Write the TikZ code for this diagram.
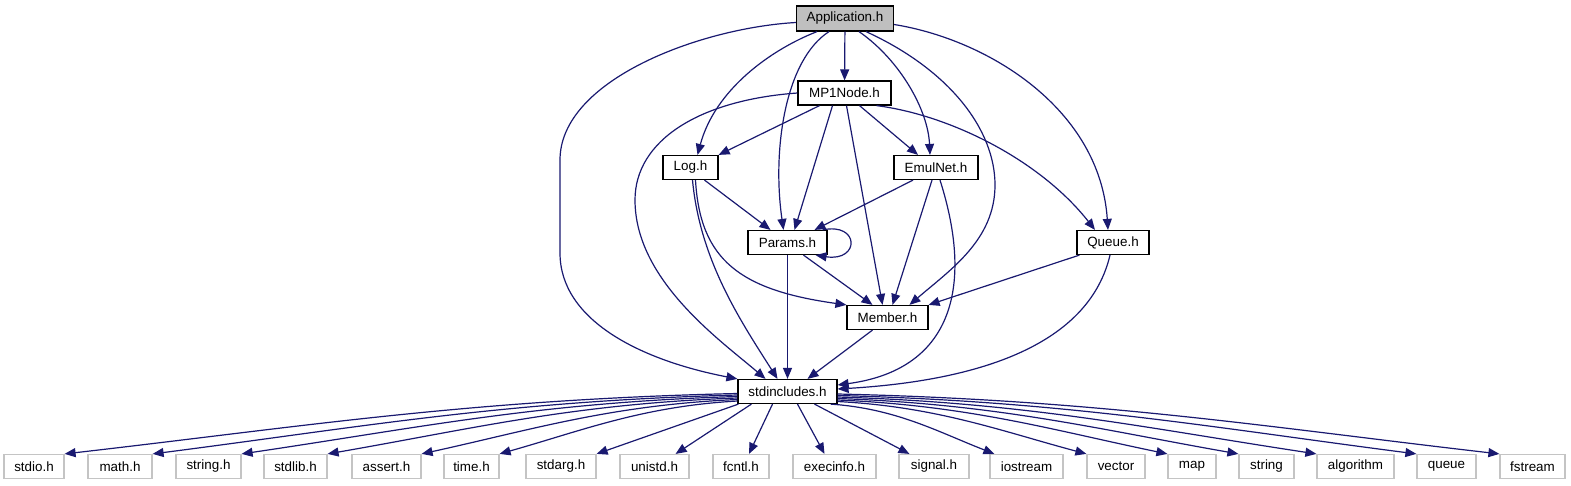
\documentclass[tikz,border=0pt]{standalone}
\usepackage{fontspec}
\setmainfont{Liberation Sans}
\usetikzlibrary{arrows.meta}
\definecolor{edgeblue}{RGB}{25,25,112}
\definecolor{appgray}{RGB}{191,191,191}
\definecolor{extgray}{RGB}{196,196,196}
\begin{document}
\begin{tikzpicture}[x=1pt,y=-1pt,
  hbox/.style={draw=black, line width=1.2pt, fill=white, inner sep=0pt, minimum height=24pt, font=\fontsize{13.4}{15}\selectfont},
  extbox/.style={draw=extgray, line width=1.2pt, fill=white, inner sep=0pt, minimum height=24pt, font=\fontsize{13.4}{15}\selectfont},
  edge/.style={draw=edgeblue, line width=1.2pt, -{Triangle[length=11pt,width=9pt]}}
]
\useasboundingbox (0,0) rectangle (1571,485);
% main headers
\node[hbox, fill=appgray, minimum width=97pt, minimum height=25pt] (app) at (845,18.5) {Application.h};
\node[hbox, minimum width=93pt] (mp1) at (844.5,93) {MP1Node.h};
\node[hbox, minimum width=55pt] (log) at (690.5,167.5) {Log.h};
\node[hbox, minimum width=84pt] (emul) at (936,167.5) {EmulNet.h};
\node[hbox, minimum width=79pt] (params) at (787.5,242.5) {Params.h};
\node[hbox, minimum width=72pt] (queue) at (1113,242.5) {Queue.h};
\node[hbox, minimum width=81pt] (member) at (887.5,317.5) {Member.h};
\node[hbox, minimum width=99pt] (stdinc) at (787.5,391.5) {stdincludes.h};
% system headers
\node[extbox, minimum width=60pt] (stdio) at (34,466.5) {stdio.h};
\node[extbox, minimum width=64pt] (math) at (120,466.5) {math.h};
\node[extbox, minimum width=65pt] (string) at (208.5,466.5) {string.h};
\node[extbox, minimum width=63pt] (stdlib) at (295.5,466.5) {stdlib.h};
\node[extbox, minimum width=69pt] (assert) at (386.5,466.5) {assert.h};
\node[extbox, minimum width=55pt] (time) at (471.5,466.5) {time.h};
\node[extbox, minimum width=70pt] (stdarg) at (561,466.5) {stdarg.h};
\node[extbox, minimum width=69pt] (unistd) at (654.5,466.5) {unistd.h};
\node[extbox, minimum width=56pt] (fcntl) at (741,466.5) {fcntl.h};
\node[extbox, minimum width=83pt] (execinfo) at (834.5,466.5) {execinfo.h};
\node[extbox, minimum width=70pt] (signal) at (934,466.5) {signal.h};
\node[extbox, minimum width=73pt] (iostream) at (1026.5,466.5) {iostream};
\node[extbox, minimum width=58pt] (vector) at (1116,466.5) {vector};
\node[extbox, minimum width=48pt] (map) at (1192,466.5) {map};
\node[extbox, minimum width=55pt] (string2) at (1266.5,466.5) {string};
\node[extbox, minimum width=77pt] (algorithm) at (1355.5,466.5) {algorithm};
\node[extbox, minimum width=59pt] (queue2) at (1446.5,466.5) {queue};
\node[extbox, minimum width=65pt] (fstream) at (1532.5,466.5) {fstream};
% Application.h
\draw[edge] ([yshift=-4pt]app.west) .. controls (700,28) and (560,80) .. (560,160) -- (560,253) .. controls (560,320) and (640,360) .. (stdinc.north west);
\draw[edge] (app) -- (mp1);
\draw[edge] ([xshift=-28pt]app.south) .. controls (770,50) and (715,90) .. ([xshift=7pt]log.north);
\draw[edge] ([xshift=-16pt]app.south) .. controls (785,60) and (772,150) .. ([xshift=-4pt]params.north);
\draw[edge] ([xshift=14pt]app.south) .. controls (900,60) and (928,110) .. ([xshift=-6pt]emul.north);
\draw[edge] ([xshift=21pt]app.south) .. controls (950,70) and (995,130) .. (995,185) .. controls (995,240) and (950,270) .. ([xshift=22pt]member.north);
\draw[edge] ([yshift=-6pt]app.east) .. controls (990,40) and (1100,110) .. ([xshift=-5pt]queue.north);
% MP1Node.h
\draw[edge] ([xshift=-25pt]mp1.south) -- (log.north east);
\draw[edge] (mp1.west) .. controls (700,100) and (635,140) .. (635,200) .. controls (635,280) and (720,340) .. ([xshift=-22pt]stdinc.north);
\draw[edge] ([xshift=-12pt]mp1.south) -- ([xshift=7pt]params.north);
\draw[edge] ([xshift=2pt]mp1.south) -- ([xshift=-5pt]member.north);
\draw[edge] ([xshift=15pt]mp1.south) -- ([xshift=-18pt]emul.north);
\draw[edge] ([xshift=32pt]mp1.south) .. controls (950,115) and (1040,160) .. ([xshift=-18pt]queue.north);
% Log.h
\draw[edge] ([xshift=14pt]log.south) -- ([xshift=-17pt]params.north);
\draw[edge] ([xshift=2pt]log.south) .. controls (700,260) and (740,320) .. ([xshift=-10pt]stdinc.north);
\draw[edge] ([xshift=5pt]log.south) .. controls (700,260) and (740,290) .. (member.north west);
% EmulNet.h
\draw[edge] ([xshift=-23pt]emul.south) -- ([xshift=27pt]params.north);
\draw[edge] ([xshift=-4pt]emul.south) -- ([xshift=5pt]member.north);
\draw[edge] ([xshift=4pt]emul.south) .. controls (975,290) and (950,370) .. ([yshift=6.5pt]stdinc.east);
% Params.h
\draw[edge] ([xshift=-5pt]params.north east) .. controls (860,222) and (860,262) .. ([xshift=-12pt]params.south east);
\draw[edge] ([xshift=16pt]params.south) -- ([xshift=-15pt]member.north);
\draw[edge] (params) -- (stdinc);
% Queue.h
\draw[edge] ([xshift=3pt]queue.south west) -- (member.north east);
\draw[edge] ([xshift=-3pt]queue.south) .. controls (1090,340) and (990,380) .. ([yshift=2.5pt]stdinc.east);
% Member.h
\draw[edge] ([xshift=-15pt]member.south) -- ([xshift=20pt]stdinc.north);
% stdincludes.h
\draw[edge] ([yshift=-2pt]stdinc.west) .. controls (468.4,399.6) and (299.9,427) .. (stdio.north east);
\draw[edge] ([yshift=-3.5pt]stdinc.west) .. controls (503.6,401) and (357.1,427.7) .. (math.north east);
\draw[edge] ([yshift=-5pt]stdinc.west) .. controls (539.2,402.3) and (415,428.4) .. (string.north east);
\draw[edge] ([yshift=-6.5pt]stdinc.west) .. controls (573.6,403.7) and (470.9,429.1) .. (stdlib.north east);
\draw[edge] ([yshift=-8pt]stdinc.west) .. controls (611.2,405) and (532,429.7) .. (assert.north east);
\draw[edge] ([yshift=-9.5pt]stdinc.west) .. controls (642.4,406.4) and (582.7,430.4) .. (time.north east);
\draw[edge] ([xshift=1pt]stdinc.south west) -- (stdarg.north east);
\draw[edge] ([xshift=14pt]stdinc.south west) -- ([xshift=-14pt]unistd.north east);
\draw[edge] ([xshift=-15pt]stdinc.south) -- ([xshift=8pt]fcntl.north);
\draw[edge] ([xshift=10pt]stdinc.south) -- ([xshift=-10pt]execinfo.north);
\draw[edge] ([xshift=27pt]stdinc.south) -- ([xshift=11pt]signal.north west);
\draw[edge] ([xshift=-7pt]stdinc.south east) .. controls (896,408.6) and (937.2,431.5) .. ([xshift=5pt]iostream.north west);
\draw[edge] ([yshift=-10pt]stdinc.east) .. controls (937,406.8) and (999.5,430.6) .. (vector.north west);
\draw[edge] ([yshift=-8.5pt]stdinc.east) .. controls (969.4,405.5) and (1052.1,430) .. (map.north west);
\draw[edge] ([yshift=-7pt]stdinc.east) .. controls (997.8,404.1) and (1098.3,429.3) .. (string2.north west);
\draw[edge] ([yshift=-5.5pt]stdinc.east) .. controls (1029,402.75) and (1149,428.6) .. (algorithm.north west);
\draw[edge] ([yshift=-4pt]stdinc.east) .. controls (1069,401.4) and (1214,427.9) .. (queue2.north west);
\draw[edge] ([yshift=-2.5pt]stdinc.east) .. controls (1102.2,400) and (1268,427.3) .. (fstream.north west);
\end{tikzpicture}
\end{document}
